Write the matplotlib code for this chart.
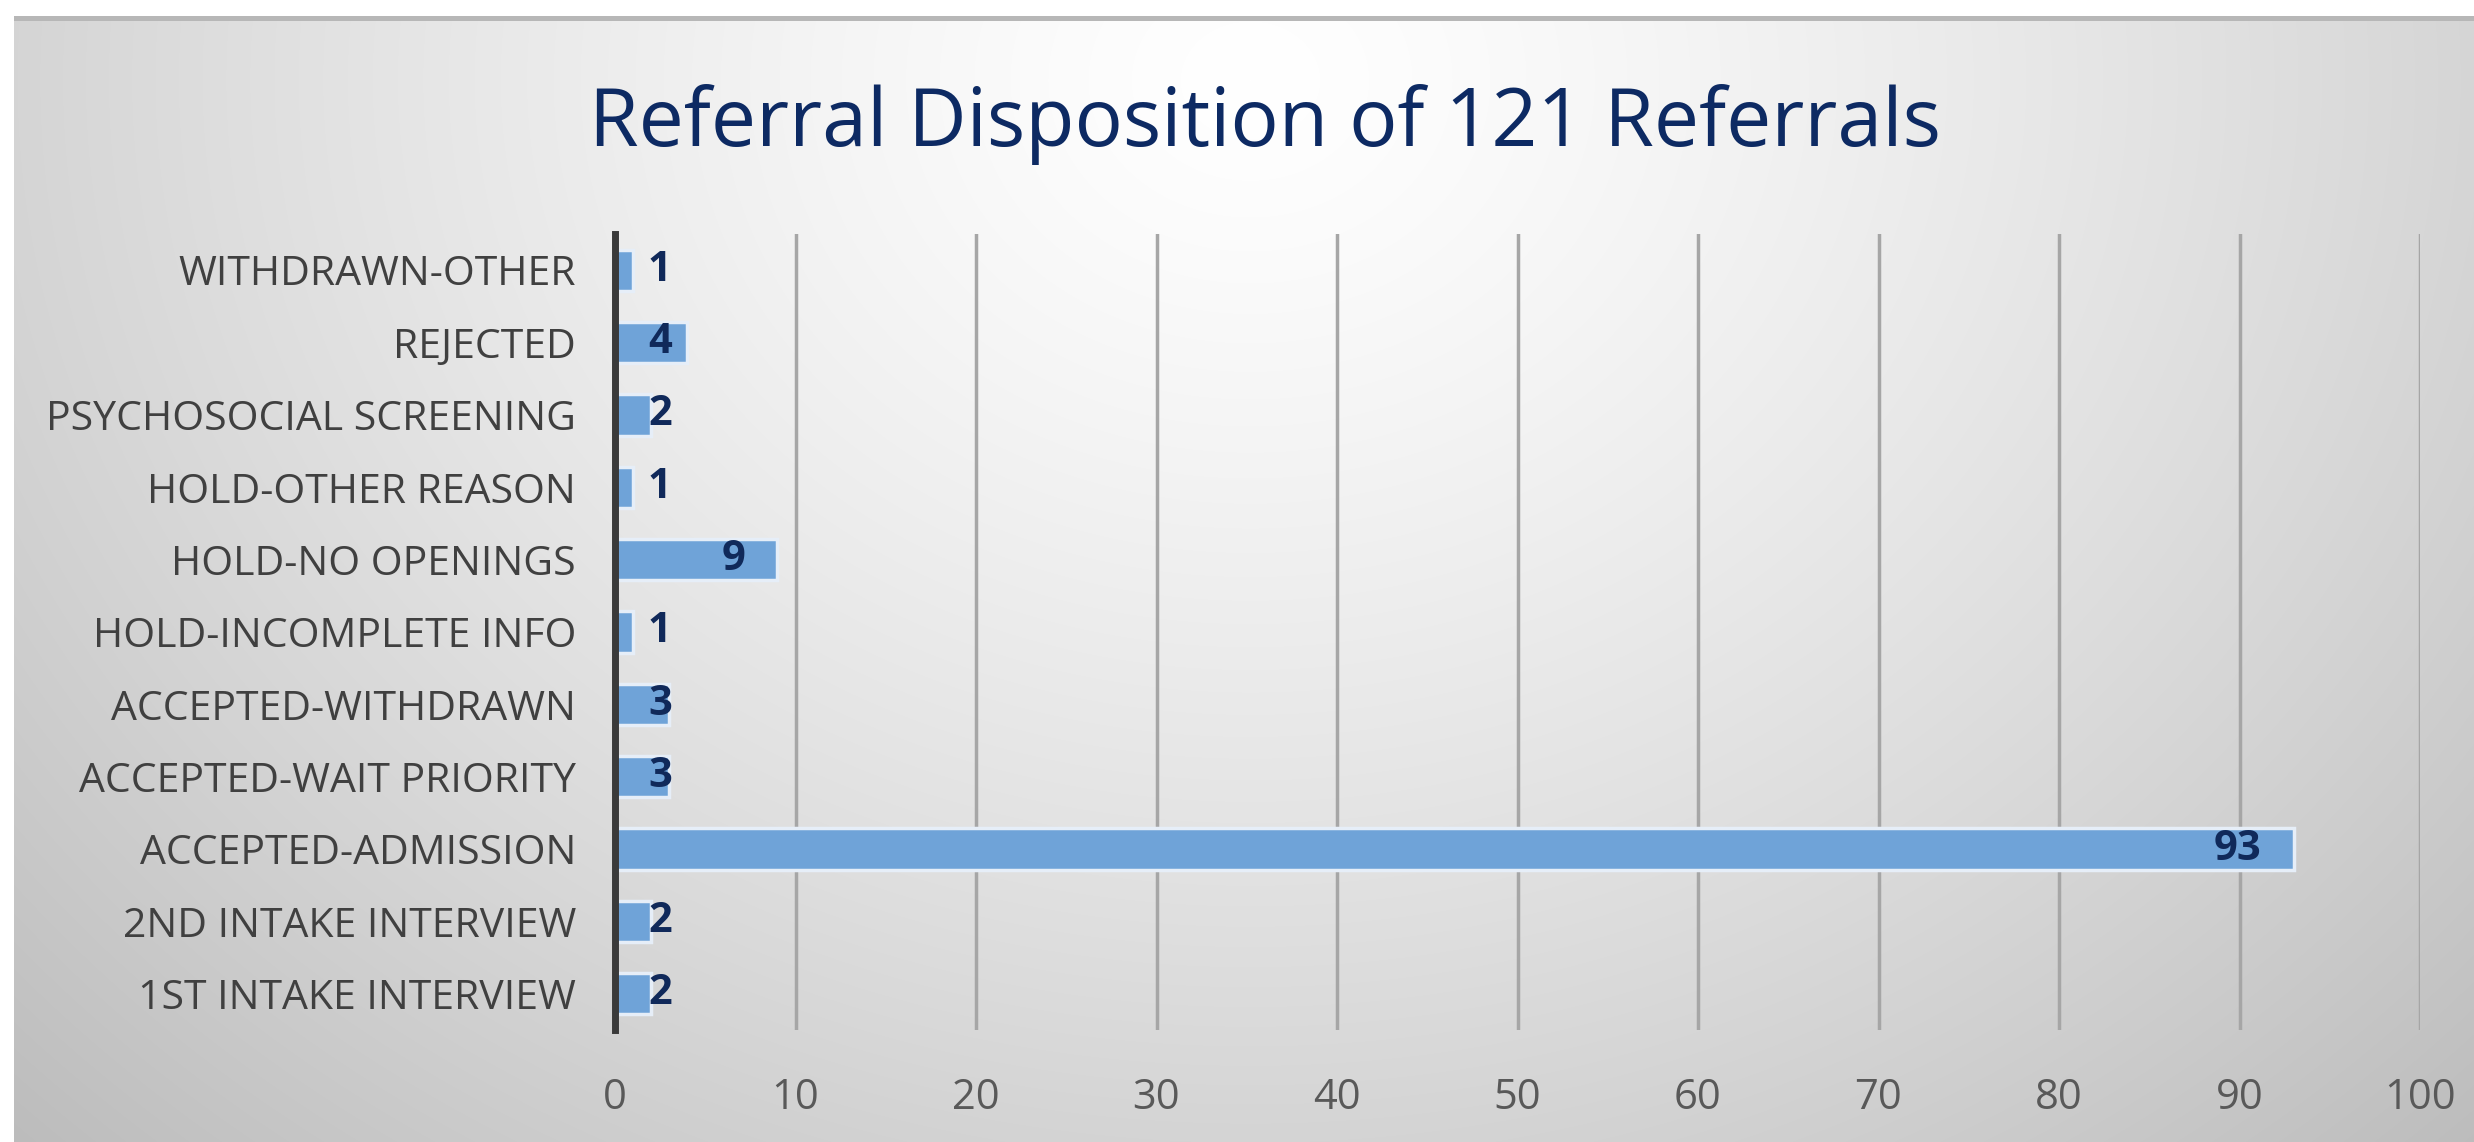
import numpy as np
import matplotlib
matplotlib.use("Agg")
import matplotlib.pyplot as plt
from matplotlib import font_manager

categories = ["1ST INTAKE INTERVIEW", "2ND INTAKE INTERVIEW", "ACCEPTED-ADMISSION",
              "ACCEPTED-WAIT PRIORITY", "ACCEPTED-WITHDRAWN", "HOLD-INCOMPLETE INFO",
              "HOLD-NO OPENINGS", "HOLD-OTHER REASON", "PSYCHOSOCIAL SCREENING",
              "REJECTED", "WITHDRAWN-OTHER"]
values = [2, 2, 93, 3, 3, 1, 9, 1, 2, 4, 1]
xticks = [0, 10, 20, 30, 40, 50, 60, 70, 80, 90, 100]
title = "Referral Disposition of 121 Referrals"

names = {f.name for f in font_manager.fontManager.ttflist}
fam = "Liberation Sans Narrow" if "Liberation Sans Narrow" in names else "Open Sans"
plt.rcParams['font.family'] = [fam, 'DejaVu Sans']

W, H = 2474, 1142
fig = plt.figure(figsize=(W / 100, H / 100), dpi=100)

# background gradient
bg = fig.add_axes([0, 0, 1, 1], zorder=-10)
yy, xx = np.mgrid[0:H, 0:W]
r = np.sqrt(((xx - 1250) / 1300.0) ** 2 + ((yy - 80) / 1100.0) ** 2)
v = 255 - 45 * r ** 1.3
v = np.clip(v, 0, 255) / 255.0
img = np.dstack([v, v, v])
img[:, :14] = 1.0
img[:16, :] = 1.0
img[16:21, 14:] = 0.72
bg.imshow(img, aspect='auto', extent=[0, W, H, 0])
bg.set_axis_off()

ax = fig.add_axes([615 / W, 1 - 1030 / H, (2420 - 615) / W, (1030 - 234) / H])
ax.patch.set_alpha(0)
y = np.arange(len(categories))
ax.barh(y, values, height=0.57, color="#6fa3d8", edgecolor="#e6eef8", linewidth=2.5, zorder=3)
ax.set_xlim(0, 100)
ax.set_ylim(-0.5, len(categories) - 0.5)
ax.set_xticks(xticks)
ax.set_xticklabels([str(t) for t in xticks], fontsize=30, color="#595959")
ax.set_yticks(y)
ax.set_yticklabels(categories, fontsize=29.5, color="#404040")
ax.tick_params(axis='x', length=0, pad=34)
ax.tick_params(axis='y', length=0, pad=28)
for s in ["top", "right", "bottom"]:
    ax.spines[s].set_visible(False)
ax.spines["left"].set_color("#3a3a3a")
ax.spines["left"].set_linewidth(5)
ax.spines["left"].set_zorder(5)
ax.grid(axis='x', color="#a6a6a6", linewidth=2.5, zorder=1)
ax.set_axisbelow(True)

for yi, val in zip(y, values):
    ax.text(max(val - 1.77, 3.15), yi, str(val), ha='right', va='center',
            fontsize=30, fontweight='bold', color="#10295a", zorder=6)

fig.text(1265 / W, 1 - 146 / H, title, ha='center', va='baseline', fontsize=58, color="#0d2a63")

fig.savefig("out.png", dpi=100)
